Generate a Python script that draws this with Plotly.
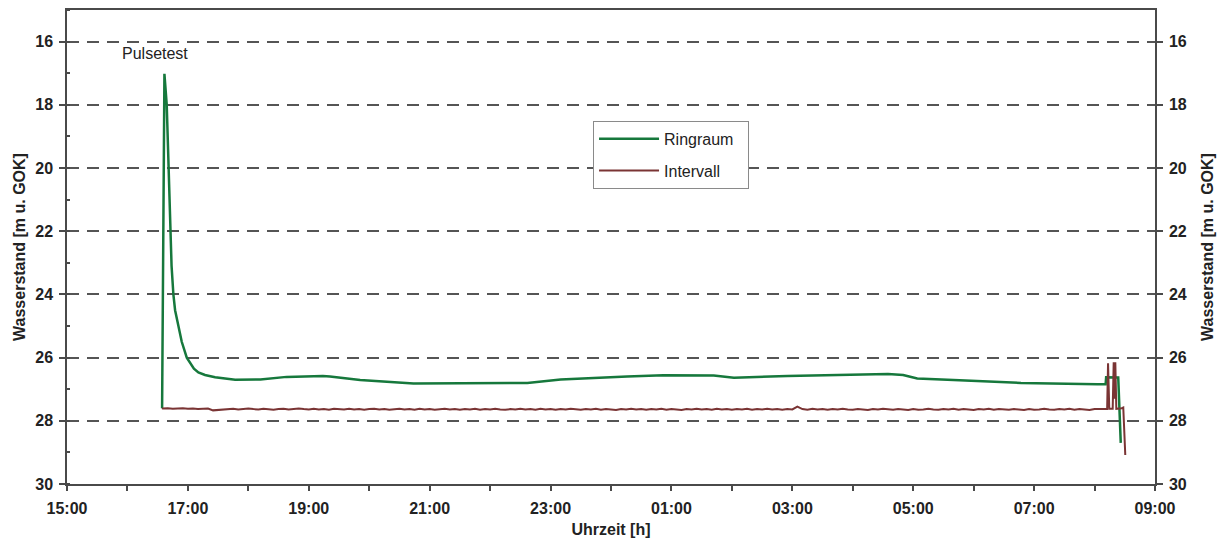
import pandas as pd
import plotly.graph_objects as go

D1 = "2024-01-01 "
D2 = "2024-01-02 "

# Ringraum (green)
ring_time = [
    D1 + "16:34:24", D1 + "16:36:42", D1 + "16:39:00", D1 + "16:40:36", D1 + "16:42:18",
    D1 + "16:43:48", D1 + "16:45:36", D1 + "16:47:18", D1 + "16:50:36", D1 + "16:53:54",
    D1 + "16:58:54", D1 + "17:03:48", D1 + "17:06:00", D1 + "17:10:24", D1 + "17:17:00",
    D1 + "17:27:00", D1 + "17:46:54",
    D1 + "18:12:00", D1 + "18:38:00", D1 + "19:14:00", D1 + "19:21:00", D1 + "19:51:00",
    D1 + "20:44:00", D1 + "22:37:00", D1 + "23:10:00", D2 + "00:16:00", D2 + "00:52:00",
    D2 + "01:42:00", D2 + "02:02:00", D2 + "02:55:00", D2 + "04:35:00", D2 + "04:50:00",
    D2 + "05:04:00", D2 + "05:40:00", D2 + "06:47:00", D2 + "08:03:00", D2 + "08:11:00",
    D2 + "08:11:30", D2 + "08:23:30", D2 + "08:26:00",
]
ring_value = [
    27.60, 17.02, 18.00, 20.00, 22.00,
    23.10, 24.00, 24.50, 25.00, 25.50,
    26.00, 26.25, 26.35, 26.47, 26.55,
    26.62, 26.70,
    26.69, 26.61, 26.58, 26.60, 26.71,
    26.82, 26.80, 26.69, 26.60, 26.56,
    26.57, 26.64, 26.58, 26.52, 26.55,
    26.66, 26.71, 26.80, 26.84, 26.84,
    26.62, 26.63, 28.70,
]

# Intervall (brown) – 5-minute readings 16:35 .. 08:10, plus start and end events
int_regular_time = pd.date_range(D1 + "16:35", D2 + "08:10", freq="5min")
int_regular_value = [
    27.61, 27.60, 27.62, 27.61, 27.60, 27.62, 27.61, 27.63, 27.62, 27.61, 27.67, 27.66,
    27.64, 27.63, 27.62, 27.64, 27.63, 27.61, 27.63, 27.64, 27.62, 27.63, 27.65, 27.63,
    27.62, 27.64, 27.63, 27.61, 27.63, 27.64, 27.62, 27.64, 27.63, 27.65, 27.62, 27.63,
    27.64, 27.62, 27.64, 27.63, 27.65, 27.63, 27.62, 27.64, 27.63, 27.65, 27.64, 27.62,
    27.64, 27.63, 27.65, 27.62, 27.64, 27.63, 27.65, 27.64, 27.62, 27.64, 27.63, 27.65,
    27.63, 27.64, 27.62, 27.65, 27.63, 27.64, 27.62, 27.64, 27.65, 27.63, 27.64, 27.62,
    27.64, 27.63, 27.65, 27.62, 27.64, 27.63, 27.65, 27.63, 27.64, 27.62, 27.64, 27.65,
    27.63, 27.64, 27.62, 27.65, 27.63, 27.64, 27.66, 27.63, 27.64, 27.62, 27.64, 27.63,
    27.65, 27.63, 27.64, 27.62, 27.65, 27.63, 27.64, 27.66, 27.63, 27.64, 27.62, 27.64,
    27.63, 27.65, 27.62, 27.64, 27.63, 27.65, 27.63, 27.64, 27.62, 27.65, 27.63, 27.64,
    27.62, 27.64, 27.63, 27.65, 27.63, 27.64, 27.55, 27.63, 27.65, 27.62, 27.64, 27.63,
    27.65, 27.63, 27.64, 27.62, 27.64, 27.65, 27.63, 27.64, 27.66, 27.63, 27.64, 27.62,
    27.64, 27.65, 27.63, 27.64, 27.66, 27.63, 27.65, 27.64, 27.62, 27.64, 27.65, 27.63,
    27.64, 27.62, 27.65, 27.63, 27.64, 27.66, 27.63, 27.64, 27.62, 27.65, 27.63, 27.64,
    27.65, 27.63, 27.64, 27.66, 27.63, 27.65, 27.64, 27.62, 27.64, 27.65, 27.63, 27.64,
    27.62, 27.65, 27.63, 27.64, 27.66, 27.63, 27.64, 27.63,
]
int_start_time = [D1 + "16:34:24"]
int_start_value = [27.60]
int_end_time = [
    D2 + "08:12:30", D2 + "08:13:24", D2 + "08:14:36", D2 + "08:18:00", D2 + "08:19:00",
    D2 + "08:20:00", D2 + "08:20:36", D2 + "08:21:36", D2 + "08:27:00", D2 + "08:28:30",
    D2 + "08:30:30",
]
int_end_value = [
    27.63, 26.18, 27.62, 27.62, 26.15,
    27.30, 26.15, 27.62, 27.60, 27.58,
    29.08,
]

int_time = list(pd.to_datetime(int_start_time)) + list(int_regular_time) + list(pd.to_datetime(int_end_time))
int_value = int_start_value + int_regular_value + int_end_value

y_ticks = [16, 18, 20, 22, 24, 26, 28, 30]

GREEN = "#16783c"
BROWN = "#7a3434"
AXIS = "#4a4a4a"
TXT = "#222222"
FONT = "Liberation Sans"
FS = 16

fig = go.Figure()
fig.add_trace(go.Scatter(x=pd.to_datetime(ring_time), y=ring_value, mode="lines", name="Ringraum&nbsp;&nbsp;",
                         line=dict(color=GREEN, width=2.5), legendgroup="a"))
fig.add_trace(go.Scatter(x=int_time, y=int_value, mode="lines", name="Intervall",
                         line=dict(color=BROWN, width=2), legendgroup="b", yaxis="y2"))

fig.add_annotation(x=pd.Timestamp(D1 + "16:27:30"), y=16.38, text="Pulsetest", showarrow=False,
                   font=dict(family=FONT, size=FS, color=TXT))

def yax(standoff):
    return dict(
        range=[30, 15], tickvals=y_ticks, showline=True, linecolor=AXIS, linewidth=1.5,
        ticks="outside", ticklen=6, tickwidth=1.5, tickcolor=AXIS,
        tickfont=dict(family=FONT, size=FS, color=TXT, weight="bold"),
        title=dict(text="Wasserstand [m u. GOK]", font=dict(family=FONT, size=FS, color=TXT, weight="bold"),
                   standoff=standoff),
        zeroline=False, ticklabelstandoff=3, automargin=False,
    )

fig.update_layout(
    width=1226, height=538,
    margin=dict(l=67, r=71, t=10, b=54),
    paper_bgcolor="white", plot_bgcolor="white",
    showlegend=True,
    legend=dict(x=0.4835, y=0.766, xanchor="left", yanchor="top",
                bgcolor="white", bordercolor="#8a8a8a", borderwidth=1,
                font=dict(family=FONT, size=FS, color=TXT),
                tracegroupgap=8, itemwidth=60),
    xaxis=dict(
        range=[pd.Timestamp(D1 + "15:00"), pd.Timestamp(D2 + "09:00")],
        type="date", tick0=D1 + "15:00", dtick=2 * 3600 * 1000, tickformat="%H:%M",
        showline=True, linecolor=AXIS, linewidth=1.5, mirror=True,
        ticks="outside", ticklen=5, tickwidth=1.5, tickcolor=AXIS,
        minor=dict(dtick=3600 * 1000, ticks="outside", ticklen=5, tickwidth=1.5, tickcolor=AXIS, showgrid=False),
        showgrid=False, zeroline=False, ticklabelstandoff=4, automargin=False,
        tickfont=dict(family=FONT, size=FS, color=TXT, weight="bold"),
        title=dict(text="Uhrzeit [h]", font=dict(family=FONT, size=FS, color=TXT, weight="bold"), standoff=9),
    ),
    yaxis=dict(
        **yax(6), side="left",
        showgrid=True, gridcolor="#555555", gridwidth=1.5, griddash="12px,8px",
        minor=dict(dtick=1, tick0=15, ticks="inside", ticklen=3, tickwidth=1.5, tickcolor=AXIS, showgrid=False),
    ),
    yaxis2=dict(
        **yax(16), side="right", overlaying="y", showgrid=False,
    ),
)

fig.write_html("out.html")
